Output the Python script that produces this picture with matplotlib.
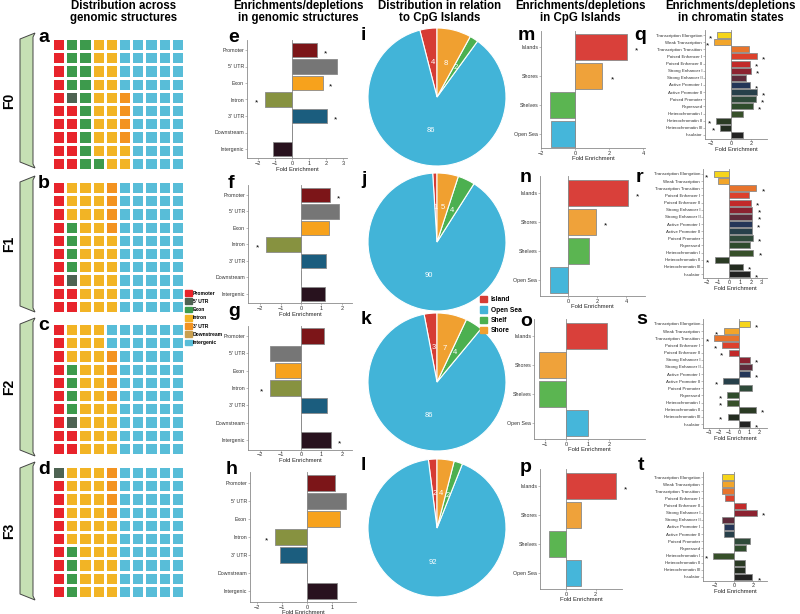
import matplotlib
matplotlib.use("Agg")
import matplotlib.pyplot as plt  # noqa: E402
import numpy as np  # noqa: E402
from matplotlib.colors import ListedColormap  # noqa: E402
from matplotlib.patches import Polygon, Patch  # noqa: E402

plt.rcParams.update({"font.family": ["Liberation Sans", "DejaVu Sans"]})

W, H = 800, 614

# ---- data ----
genomic_cats = ["Promoter", "5' UTR", "Exon", "Intron", "3' UTR", "Downstream", "Intergenic"]
waffle_colors = ["#e8242b", "#4e6352", "#3d9a4c", "#f2b425", "#f39321", "#c9a050", "#58bdd8"]
waffle_f0 = [15, 1, 15, 21, 4, 0, 44]
waffle_f1 = [12, 1, 4, 29, 4, 0, 50]
waffle_f2 = [12, 1, 4, 27, 4, 0, 52]
waffle_f3 = [9, 1, 4, 32, 4, 0, 50]

genomic_colors = ["#7c1518", "#767676", "#f7a21c", "#879240", "#1b5d7e", "#888888", "#28121e"]
enrich_e = [1.5, 2.65, 1.8, -1.6, 2.05, 0, -1.1]
enrich_f = [1.4, 1.85, 1.35, -1.7, 1.2, 0, 1.15]
enrich_g = [1.1, -1.5, -1.25, -1.5, 1.25, 0, 1.45]
enrich_h = [1.1, 1.55, 1.3, -1.3, -1.1, 0, 1.2]
stars_e = [0, 2, 3, 4]
stars_f = [0, 3]
stars_g = [3, 6]
stars_h = [3]

pie_labels = ["Island", "Open Sea", "Shelf", "Shore"]
pie_colors = ["#d63c34", "#42b4d8", "#4cb050", "#f0a030"]
pie_i = [4, 86, 2, 8]
pie_j = [1, 90, 4, 5]
pie_k = [3, 86, 4, 7]
pie_l = [2, 92, 2, 4]

cpg_cats = ["Islands", "Shores", "Shelves", "Open Sea"]
cpg_colors = ["#d9403a", "#efa23a", "#5bb551", "#45b6da"]
cpg_m = [3.05, 1.6, -1.45, -1.4]
cpg_n = [4.1, 1.9, 1.45, -1.25]
cpg_o = [1.9, -1.25, -1.25, 1.0]
cpg_p = [3.4, 1.0, -1.2, 1.0]
stars_m = [0, 1]
stars_n = [0, 1]
stars_o = []
stars_p = [0]

states = ["Transcription Elongation", "Weak Transcription", "Transcription Transition",
          "Poised Enhancer I", "Poised Enhancer II", "Strong Enhancer I", "Strong Enhancer II",
          "Active Promoter I", "Active Promoter II", "Poised Promoter", "Repressed",
          "Heterochromatin I", "Heterochromatin II", "Heterochromatin III", "Insulator"]
state_colors = ["#f6d51a", "#f2a52a", "#e8742c", "#dc412c", "#c22a2a", "#8c2230", "#5e2a3a",
                "#243658", "#27404a", "#2f4a3a", "#2f4c2c", "#37502a", "#2b3b24", "#232c20", "#222222"]
chrom_q = [-1.4, -1.7, 1.8, 2.6, 1.9, 2.0, 1.5, 1.9, 2.6, 2.5, 2.2, 1.2, -1.5, -1.1, 1.2]
chrom_r = [-1.4, -1.05, 2.5, 1.8, 2.0, 2.15, 2.15, 2.1, 2.15, 2.2, 1.9, 2.25, -1.3, 1.25, 1.9]
chrom_s = [1.05, -1.55, -2.5, -1.7, -1.05, 1.1, 1.25, 1.05, -1.6, 1.25, -1.2, -1.2, 1.7, -1.15, 1.05]
chrom_t = [-1.25, -1.25, -1.3, -1.0, 1.25, 2.4, -1.3, -1.1, -1.05, 1.7, 1.25, -2.2, 1.15, 1.15, 1.95]
stars_q = [0, 1, 3, 4, 5, 7, 8, 9, 10, 12, 13]
stars_r = [0, 2, 4, 5, 6, 7, 9, 11, 12, 13, 14]
stars_s = [0, 1, 2, 3, 4, 5, 7, 8, 10, 11, 12, 13, 14]
stars_t = [5, 11, 14]

fig = plt.figure(figsize=(8, 6.14), dpi=100)


def px_axes(x0, y0, x1, y1):
    return fig.add_axes([x0 / W, 1 - y1 / H, (x1 - x0) / W, (y1 - y0) / H])


over = px_axes(0, 0, W, H)
over.set_xlim(0, W)
over.set_ylim(H, 0)
over.axis("off")


def waffle(box, counts):
    ax = px_axes(*box)
    # filled column by column, bottom to top
    grid = np.repeat(np.arange(len(counts)), counts).reshape(10, 10).T
    ax.pcolormesh(grid, cmap=ListedColormap(waffle_colors), vmin=-0.5, vmax=6.5,
                  edgecolors="white", linewidth=0.8)
    ax.set_xlim(0, 10)
    ax.set_ylim(0, 10)
    ax.axis("off")


def bar_panel(xbox, rows, cats, vals, cols, stars, xlim, xticks, fs, h=0.88, star_off=6):
    yf, yl, tm, bm = rows
    n = len(cats)
    pitch = (yl - yf) / (n - 1)
    ax = px_axes(xbox[0], yf - tm * pitch, xbox[1], yl + bm * pitch)
    y = np.arange(n)
    ax.barh(y, vals, height=h, color=cols, edgecolor="#8a8a8a", linewidth=0.6, zorder=2)
    ax.axvline(0, color="#8a8a8a", lw=0.6, zorder=1)
    ax.set_ylim(n - 1 + bm, -tm)
    ax.set_xlim(*xlim)
    ax.set_xticks(xticks)
    ax.set_yticks(y, cats)
    for i in stars:
        v = vals[i]
        ax.annotate("*", (v, i), xytext=(star_off if v > 0 else -star_off, -2.5),
                    textcoords="offset points", ha="center", va="center", fontsize=6,
                    annotation_clip=False)
    for s in ("top", "right"):
        ax.spines[s].set_visible(False)
    for s in ("left", "bottom"):
        ax.spines[s].set_color("#8a8a8a")
        ax.spines[s].set_linewidth(0.6)
    ax.patch.set_alpha(0)
    ax.tick_params(axis="y", labelsize=fs, length=1.2, width=0.4, pad=0.8, colors="#8a8a8a",
                   labelcolor="#333333")
    ax.tick_params(axis="x", labelsize=4, length=1.2, width=0.4, pad=0.8, colors="#8a8a8a",
                   labelcolor="#333333")
    ax.set_xlabel("Fold Enrichment", fontsize=4.2, labelpad=0.5, color="#222222")
    return ax


def pie_panel(cx, cy, r, vals):
    ax = px_axes(cx - r, cy - r, cx + r, cy + r)
    ax.pie(vals, colors=pie_colors, startangle=90, counterclock=True,
           autopct=lambda p: f"{p:.0f}", pctdistance=0.5,
           wedgeprops=dict(edgecolor="white", linewidth=0.8),
           textprops=dict(color="white", fontsize=5.5))
    ax.set_xlim(-1, 1)
    ax.set_ylim(-1, 1)


# waffles a-d
waffle((52, 38, 184, 170), waffle_f0)
waffle((52, 181, 184, 313), waffle_f1)
waffle((52, 323, 184, 455), waffle_f2)
waffle((52, 466, 184, 598), waffle_f3)

# genomic enrichment e-h
bar_panel((247, 347), (50, 149, 0.6, 0.55), genomic_cats, enrich_e, genomic_colors, stars_e,
          (-2.65, 3.24), [-2, -1, 0, 1, 2, 3], 3.8)
bar_panel((248, 352), (195, 294, 0.6, 0.55), genomic_cats, enrich_f, genomic_colors, stars_f,
          (-2.59, 2.49), [-2, -1, 0, 1, 2], 3.8)
bar_panel((248, 352), (336, 440, 0.55, 0.55), genomic_cats, enrich_g, genomic_colors, stars_g,
          (-2.59, 2.49), [-2, -1, 0, 1, 2], 3.8)
bar_panel((250, 356), (483, 591, 0.6, 0.6), genomic_cats, enrich_h, genomic_colors, stars_h,
          (-2.28, 1.96), [-2, -1, 0, 1], 3.8)

# pies i-l
pie_panel(437, 97, 69, pie_i)
pie_panel(437, 242, 69, pie_j)
pie_panel(437, 382, 69, pie_k)
pie_panel(437, 528, 69, pie_l)

# CpG enrichment m-p
bar_panel((541, 645), (47, 134, 0.55, 0.48), cpg_cats, cpg_m, cpg_colors, stars_m,
          (-2.0, 4.1), [-2, 0, 2, 4], 3.8, star_off=7)
bar_panel((540, 645), (193, 280, 0.6, 0.55), cpg_cats, cpg_n, cpg_colors, stars_n,
          (-1.92, 5.27), [0, 2, 4], 3.8, star_off=7)
bar_panel((534, 645), (336, 423, 0.6, 0.55), cpg_cats, cpg_o, cpg_colors, stars_o,
          (-1.5, 3.67), [-1, 0, 1, 2], 3.8, star_off=7)
bar_panel((540, 622), (486, 573, 0.6, 0.55), cpg_cats, cpg_p, cpg_colors, stars_p,
          (-1.8, 3.8), [0, 2], 3.8, star_off=7)

# chromatin q-t
bar_panel((705, 767), (35, 135, 0.7, 0.5), states, chrom_q, state_colors, stars_q,
          (-2.6, 3.6), [-2, 0, 2], 3.2, h=0.85, star_off=5)
bar_panel((703, 767), (174, 274, 0.7, 0.5), states, chrom_r, state_colors, stars_r,
          (-2.4, 3.5), [-2, -1, 0, 1, 2, 3], 3.2, h=0.85, star_off=5)
bar_panel((703, 767), (324, 424, 0.7, 0.5), states, chrom_s, state_colors, stars_s,
          (-3.6, 2.8), [-3, -2, -1, 0, 1, 2], 3.2, h=0.85, star_off=5)
bar_panel((703, 767), (477, 577, 0.7, 0.5), states, chrom_t, state_colors, stars_t,
          (-3.3, 3.5), [-2, 0, 2], 3.2, h=0.85, star_off=5)

# legends
fig.legend([Patch(color=c) for c in waffle_colors], genomic_cats, loc="upper left",
           bbox_to_anchor=(185 / W, 1 - 290 / H), frameon=False,
           prop=dict(size=3.6, weight="bold"), handlelength=1.3, handleheight=1.4,
           labelspacing=0.5, handletextpad=0.3, borderpad=0, borderaxespad=0)
fig.legend([Patch(color=c) for c in pie_colors], pie_labels, loc="upper left",
           bbox_to_anchor=(480 / W, 1 - 296 / H), frameon=False,
           prop=dict(size=4.8, weight="bold"), handlelength=1.1, handleheight=1.1,
           labelspacing=0.42, handletextpad=0.5, borderpad=0, borderaxespad=0)

# titles
titles = [(124, "Distribution across\ngenomic structures"),
          (298, "Enrichments/depletions\nin genomic structures"),
          (440, "Distribution in relation\nto CpG Islands"),
          (580, "Enrichments/depletions\nin CpG Islands"),
          (731, "Enrichments/depletions\nin chromatin states")]
for x, t in titles:
    over.text(x, 12, t, ha="center", va="center", fontsize=8.3, weight="bold", linespacing=1.1)

# panel letters
letters = [("a", 38, 37), ("b", 38, 183), ("c", 38, 325), ("d", 38, 470),
           ("e", 228, 38), ("f", 228, 183), ("g", 228, 312), ("h", 226, 469),
           ("i", 361, 36), ("j", 361, 179), ("k", 361, 320), ("l", 361, 465),
           ("m", 518, 36), ("n", 520, 178), ("o", 520, 322), ("p", 520, 468),
           ("q", 634, 36), ("r", 636, 178), ("s", 636, 320), ("t", 638, 465)]
for s, x, y in letters:
    over.text(x, y, s, ha="left", va="center", fontsize=14, weight="bold")

# generation brackets
gens = [("F0", 33, 168), ("F1", 176, 312), ("F2", 318, 456), ("F3", 462, 600)]
for name, top, bot in gens:
    over.add_patch(Polygon([(20, top + 6), (35, top), (33, top + 4), (33, bot - 4),
                            (35, bot), (20, bot - 6)], closed=True,
                           facecolor="#c6e0b4", edgecolor="#444444", linewidth=0.7))
    over.text(9, (top + bot) / 2, name, rotation=90, ha="center", va="center",
              fontsize=10, weight="bold")

fig.savefig("out.png", dpi=100)
